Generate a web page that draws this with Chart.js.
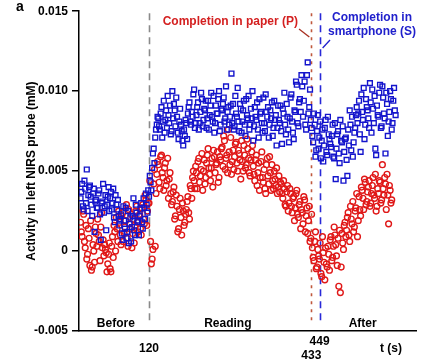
<!DOCTYPE html>
<html>
<head>
<meta charset="utf-8">
<script src="https://cdn.jsdelivr.net/npm/chart.js@4.4.1/dist/chart.umd.min.js"></script>
<style>
  html, body { margin: 0; padding: 0; background: #fff; }
  #wrap { width: 422px; height: 364px; }
</style>
</head>
<body>
<div id="wrap"><canvas id="chart" width="422" height="364"></canvas></div>
<script>
// ---- data (mM) ----
// two interleaved sample sets per condition: *A at T_START + i*T_STEP, *B half a step later
const T_START = -12;
const T_STEP = 3;

const smartphoneA = [
  0.0033, 0.0042, 0.0026, 0.0039, 0.0051, 0.0035, 0.0041, 0.0029, 0.0036, 0.0012, 0.0032,
  0.0027, 0.0038, 0.0007, 0.0031, 0.0024, 0.0035, 0.0029, 0.0040, 0.0033, 0.0026, 0.0039, 0.0018, 0.0029, 0.0032,
  0.0016, 0.0023, 0.0007, 0.0019, 0.0027, 0.0012, 0.0005, 0.0021, 0.0015, 0.0033, 0.0010, 0.0024, 0.0018,
  0.0022, 0.0030, 0.0014, 0.0027, 0.0036, 0.0024,
  0.0034, 0.0043, 0.0052, 0.0064, 0.0071, 0.0079,
  0.0083, 0.0076, 0.0090, 0.0081, 0.0074, 0.0088, 0.0097, 0.0080, 0.0073, 0.0100, 0.0092, 0.0078, 0.0084, 0.0070, 0.0089, 0.0075, 0.0066, 0.0072, 0.0080,
  0.0086, 0.0093, 0.0079, 0.0084, 0.0101, 0.0080, 0.0090, 0.0076, 0.0087, 0.0095, 0.0082, 0.0088, 0.0077, 0.0094, 0.0085, 0.0099, 0.0081, 0.0074, 0.0091, 0.0086, 0.0100, 0.0079, 0.0088, 0.0096, 0.0083, 0.0076, 0.0090,
  0.0084, 0.0111, 0.0092, 0.0078, 0.0086, 0.0102, 0.0075, 0.0089, 0.0081, 0.0094, 0.0072, 0.0085, 0.0097, 0.0079, 0.0083, 0.0069, 0.0090, 0.0082, 0.0076, 0.0095, 0.0087, 0.0074, 0.0080, 0.0098, 0.0084, 0.0071, 0.0088, 0.0093, 0.0077, 0.0082, 0.0066, 0.0091, 0.0080, 0.0075, 0.0089, 0.0099, 0.0073, 0.0084, 0.0068, 0.0096, 0.0081, 0.0070, 0.0087, 0.0104, 0.0078,
  0.0095, 0.0110, 0.0084, 0.0106, 0.0076, 0.0118, 0.0090, 0.0082,
  0.0072, 0.0086, 0.0059, 0.0075, 0.0064, 0.0081, 0.0069, 0.0056, 0.0077, 0.0062, 0.0084, 0.0070,
  0.0065, 0.0079, 0.0058, 0.0045, 0.0073, 0.0061, 0.0082, 0.0068, 0.0044, 0.0070, 0.0057, 0.0076, 0.0088, 0.0063, 0.0059, 0.0074, 0.0085,
  0.0080, 0.0094, 0.0062, 0.0087, 0.0102, 0.0079, 0.0090, 0.0083, 0.0105, 0.0074, 0.0089, 0.0097, 0.0060, 0.0085, 0.0099, 0.0077, 0.0103, 0.0086, 0.0061, 0.0092, 0.0081, 0.0100, 0.0076, 0.0094, 0.0088
];

const smartphoneB = [
  0.0037, 0.0028, 0.0044, 0.0030, 0.0025, 0.0040, 0.0034, 0.0022, 0.0039, 0.0031, 0.0027,
  0.0036, 0.0023, 0.0030, 0.0042, 0.0028, 0.0013, 0.0034, 0.0025, 0.0037, 0.0030, 0.0021, 0.0035, 0.0026, 0.0022,
  0.0020, 0.0011, 0.0028, 0.0014, 0.0008, 0.0025, 0.0017, 0.0006, 0.0022, 0.0013, 0.0029, 0.0019, 0.0010,
  0.0026, 0.0018, 0.0033, 0.0020, 0.0029, 0.0038,
  0.0047, 0.0038, 0.0061, 0.0055, 0.0076, 0.0084,
  0.0078, 0.0086, 0.0071, 0.0094, 0.0082, 0.0077, 0.0085, 0.0091, 0.0075, 0.0083, 0.0088, 0.0096, 0.0074, 0.0081, 0.0079, 0.0069, 0.0076, 0.0082, 0.0070,
  0.0090, 0.0081, 0.0087, 0.0098, 0.0077, 0.0085, 0.0093, 0.0080, 0.0099, 0.0078, 0.0089, 0.0094, 0.0083, 0.0076, 0.0091, 0.0084, 0.0097, 0.0080, 0.0086, 0.0095, 0.0075, 0.0089, 0.0092, 0.0081, 0.0103, 0.0087, 0.0079,
  0.0091, 0.0080, 0.0076, 0.0097, 0.0084, 0.0081, 0.0092, 0.0074, 0.0088, 0.0079, 0.0095, 0.0083, 0.0076, 0.0089, 0.0100, 0.0078, 0.0084, 0.0093, 0.0071, 0.0086, 0.0080, 0.0096, 0.0075, 0.0087, 0.0090, 0.0079, 0.0083, 0.0072, 0.0094, 0.0085, 0.0077, 0.0082, 0.0091, 0.0067, 0.0086, 0.0079, 0.0092, 0.0076, 0.0083, 0.0098, 0.0074, 0.0088, 0.0106, 0.0080, 0.0093,
  0.0087, 0.0103, 0.0094, 0.0079, 0.0110, 0.0086, 0.0101, 0.0077,
  0.0068, 0.0079, 0.0063, 0.0085, 0.0071, 0.0058, 0.0076, 0.0066, 0.0082, 0.0060, 0.0073, 0.0067,
  0.0072, 0.0059, 0.0080, 0.0064, 0.0075, 0.0055, 0.0069, 0.0078, 0.0062, 0.0071, 0.0047, 0.0066, 0.0079, 0.0084, 0.0068, 0.0077, 0.0090,
  0.0086, 0.0073, 0.0098, 0.0082, 0.0070, 0.0095, 0.0088, 0.0077, 0.0093, 0.0101, 0.0080, 0.0064, 0.0091, 0.0084, 0.0104, 0.0078, 0.0096, 0.0083, 0.0099, 0.0072, 0.0087, 0.0095, 0.0080, 0.0102, 0.0085
];

const paperA = [
  0.0018, 0.0009, 0.0023, 0.0002, -0.0005, 0.0014, -0.0009, -0.0012, 0.0004, -0.0007, 0.0011,
  0.0020, 0.0006, 0.0015, 0.0002, -0.0003, 0.0001, -0.0013, -0.0002, -0.0011, 0.0003, -0.0004, 0.0012, 0.0021, 0.0006,
  0.0018, 0.0004, 0.0024, 0.0011, 0.0019, 0.0008, 0.0026, 0.0014, 0.0002, 0.0020, 0.0016, 0.0028, 0.0012,
  0.0023, 0.0010, 0.0029, 0.0017, 0.0032, 0.0025,
  0.0030, 0.0006, -0.0005, 0.0042, 0.0003, 0.0048,
  0.0054, 0.0039, 0.0060, 0.0046, 0.0052, 0.0041, 0.0058, 0.0045, 0.0036,
  0.0031, 0.0040, 0.0022, 0.0028, 0.0014, 0.0033, 0.0010, 0.0025, 0.0018,
  0.0026, 0.0034, 0.0020, 0.0039, 0.0046,
  0.0044, 0.0053, 0.0039, 0.0058, 0.0047, 0.0061, 0.0050, 0.0042, 0.0055, 0.0064, 0.0048, 0.0052, 0.0040, 0.0059, 0.0054, 0.0062, 0.0046,
  0.0057, 0.0065, 0.0072, 0.0051, 0.0060, 0.0076, 0.0054, 0.0048, 0.0063, 0.0059, 0.0068, 0.0050, 0.0061, 0.0045, 0.0056, 0.0066, 0.0052, 0.0070, 0.0058, 0.0047, 0.0062,
  0.0053, 0.0044, 0.0060, 0.0049, 0.0038, 0.0056, 0.0046, 0.0051, 0.0036, 0.0058, 0.0042, 0.0049, 0.0054, 0.0039, 0.0045, 0.0052, 0.0040, 0.0037,
  0.0042, 0.0033, 0.0039, 0.0028, 0.0041, 0.0030, 0.0036, 0.0024, 0.0034, 0.0027, 0.0038, 0.0021, 0.0031, 0.0026, 0.0017, 0.0032, 0.0022, 0.0011, 0.0028, 0.0008,
  0.0002, -0.0006, 0.0012, -0.0010, -0.0003, 0.0005, -0.0016, -0.0001, -0.0018, -0.0008, 0.0003, -0.0012,
  0.0009, -0.0004, 0.0015, 0.0004, -0.0009, -0.0022, -0.0026, 0.0011, 0.0001, 0.0018,
  0.0013, 0.0024, 0.0006, 0.0020, 0.0031, 0.0015, 0.0027, 0.0009, 0.0034, 0.0022,
  0.0038, 0.0026, 0.0043, 0.0031, 0.0040, 0.0028, 0.0036, 0.0046, 0.0033, 0.0025, 0.0039, 0.0044, 0.0030, 0.0054, 0.0035, 0.0042, 0.0048, 0.0017, 0.0038, 0.0032
];

const paperB = [
  0.0012, 0.0025, 0.0006, 0.0016, -0.0002, 0.0008, 0.0019, -0.0010, 0.0000, 0.0015, 0.0003,
  0.0010, -0.0006, 0.0024, 0.0007, 0.0004, -0.0001, -0.0008, 0.0005, -0.0013, 0.0009, 0.0016, 0.0000, 0.0014, 0.0025,
  0.0010, 0.0022, 0.0006, 0.0015, 0.0029, 0.0003, 0.0017, 0.0023, 0.0011, 0.0005, 0.0025, 0.0018, 0.0022,
  0.0014, 0.0027, 0.0020, 0.0035, 0.0016, 0.0030,
  0.0044, -0.0008, 0.0001, 0.0051, 0.0036, 0.0056,
  0.0043, 0.0059, 0.0049, 0.0038, 0.0055, 0.0044, 0.0033, 0.0049, 0.0029,
  0.0037, 0.0020, 0.0035, 0.0012, 0.0026, 0.0021, 0.0030, 0.0016, 0.0023,
  0.0031, 0.0024, 0.0041, 0.0033, 0.0050,
  0.0039, 0.0049, 0.0056, 0.0043, 0.0051, 0.0038, 0.0057, 0.0046, 0.0060, 0.0052, 0.0044, 0.0058, 0.0063, 0.0049, 0.0055, 0.0043, 0.0059,
  0.0064, 0.0053, 0.0069, 0.0058, 0.0049, 0.0062, 0.0071, 0.0056, 0.0051, 0.0067, 0.0055, 0.0063, 0.0057, 0.0069, 0.0050, 0.0060, 0.0054, 0.0064, 0.0049, 0.0057, 0.0066,
  0.0048, 0.0057, 0.0041, 0.0055, 0.0046, 0.0062, 0.0043, 0.0039, 0.0054, 0.0047, 0.0059, 0.0038, 0.0044, 0.0050, 0.0041, 0.0036, 0.0047, 0.0043,
  0.0036, 0.0044, 0.0029, 0.0037, 0.0025, 0.0039, 0.0028, 0.0033, 0.0019, 0.0036, 0.0023, 0.0029, 0.0014, 0.0024, 0.0034, 0.0012, 0.0027, 0.0019, 0.0006, 0.0023,
  -0.0004, 0.0006, -0.0011, 0.0001, -0.0005, -0.0014, 0.0009, -0.0007, 0.0002, -0.0010, -0.0002, 0.0007,
  -0.0006, 0.0003, 0.0010, -0.0003, 0.0008, 0.0013, -0.0010, 0.0005, 0.0016, 0.0009,
  0.0021, 0.0010, 0.0028, 0.0017, 0.0012, 0.0025, 0.0036, 0.0019, 0.0026, 0.0040,
  0.0033, 0.0045, 0.0029, 0.0037, 0.0044, 0.0030, 0.0041, 0.0035, 0.0048, 0.0028, 0.0036, 0.0043, 0.0032, 0.0039, 0.0046, 0.0026, 0.0035, 0.0041, 0.0030
];

// phase boundaries (s): end of "Before", completion in paper, completion in smartphone
const phaseTimes = [120, 433, 449];
const phaseNames = ["Before", "Reading", "After"];
const yTicks = [-0.005, 0, 0.005, 0.010, 0.015];

// ---- styling / layout ----
const FONT = "'Liberation Sans', Arial, sans-serif";
const BLUE = "#1414cc";
const RED = "#e01818";
const PHASE_LABEL_T = [56, 272, 532];
const LINE_STYLES = [
  { color: "#8a8a8a", dash: [7, 5], width: 1.6 },
  { color: "#c0583c", dash: [3, 5], width: 1.6 },
  { color: "#2828d8", dash: [7, 5], width: 1.6 },
];

function toPoints(values, t0) {
  return values.map((v, i) => ({ x: t0 + i * T_STEP, y: v }));
}

const overlay = {
  id: "overlay",
  beforeDatasetsDraw(chart) {
    const { ctx, chartArea: a, scales: { x } } = chart;
    ctx.save();
    phaseTimes.forEach((t, i) => {
      const s = LINE_STYLES[i];
      const px = Math.round(x.getPixelForValue(t)) + 0.5;
      ctx.strokeStyle = s.color;
      ctx.lineWidth = s.width;
      ctx.setLineDash(s.dash);
      ctx.beginPath();
      ctx.moveTo(px, a.top + 2);
      ctx.lineTo(px, a.bottom - 6);
      ctx.stroke();
    });
    ctx.restore();
  },
  afterDraw(chart) {
    const { ctx, chartArea: a, scales: { x } } = chart;
    const xp = x.getPixelForValue(phaseTimes[1]);
    const xs = x.getPixelForValue(phaseTimes[2]);
    ctx.save();
    ctx.font = "bold 12px " + FONT;
    ctx.fillStyle = "#000";

    // phase names inside the plot
    ctx.textAlign = "center";
    ctx.textBaseline = "middle";
    phaseNames.forEach((n, i) => ctx.fillText(n, x.getPixelForValue(PHASE_LABEL_T[i]), a.bottom - 7));

    // x tick labels (staggered) and axis name
    ctx.fillText(String(phaseTimes[0]), x.getPixelForValue(phaseTimes[0]), a.bottom + 18);
    ctx.fillText(String(phaseTimes[1]), xp, a.bottom + 25);
    ctx.fillText(String(phaseTimes[2]), xs, a.bottom + 11);
    ctx.fillText("t (s)", 391, a.bottom + 18);

    // annotations
    ctx.textBaseline = "alphabetic";
    ctx.textAlign = "right";
    ctx.fillStyle = "#d42020";
    ctx.fillText("Completion in paper (P)", 298, 25);
    ctx.textAlign = "center";
    ctx.fillStyle = "#2020cc";
    ctx.fillText("Completion in", 372, 21);
    ctx.fillText("smartphone (S)", 372, 34.5);

    ctx.lineWidth = 1.3;
    ctx.strokeStyle = "#a83020";
    ctx.beginPath();
    ctx.moveTo(299, 29);
    ctx.lineTo(xp - 2, 37);
    ctx.stroke();
    ctx.strokeStyle = "#2020cc";
    ctx.beginPath();
    ctx.moveTo(330, 40);
    ctx.lineTo(xs + 3, 48);
    ctx.stroke();

    // panel letter
    ctx.fillStyle = "#000";
    ctx.textAlign = "left";
    ctx.font = "bold 14px " + FONT;
    ctx.fillText("a", 16, 11);
    ctx.restore();
  },
};

new Chart(document.getElementById("chart").getContext("2d"), {
  type: "scatter",
  data: {
    datasets: [
      {
        label: "Smartphone (S)",
        data: toPoints(smartphoneA, T_START).concat(toPoints(smartphoneB, T_START + T_STEP / 2)),
        pointStyle: "rect",
        pointRadius: 3.4,
        borderWidth: 1.4,
        borderColor: BLUE,
        backgroundColor: "rgba(0,0,0,0)",
      },
      {
        label: "Paper (P)",
        data: toPoints(paperA, T_START).concat(toPoints(paperB, T_START + T_STEP / 2)),
        pointStyle: "circle",
        pointRadius: 2.9,
        borderWidth: 1.4,
        borderColor: RED,
        backgroundColor: "rgba(0,0,0,0)",
      },
    ],
  },
  options: {
    responsive: false,
    animation: false,
    layout: { padding: { left: 0, right: 5, top: 8, bottom: 0 } },
    plugins: { legend: { display: false }, tooltip: { enabled: false } },
    scales: {
      x: {
        type: "linear",
        min: -15,
        max: 636,
        grid: { display: false },
        border: { color: "#000", width: 1.5 },
        ticks: { display: false },
        afterFit: (s) => { s.height = 33; },
      },
      y: {
        min: -0.005,
        max: 0.015,
        afterBuildTicks: (s) => { s.ticks = yTicks.map((v) => ({ value: v })); },
        ticks: {
          color: "#000",
          padding: 4,
          font: { family: FONT, size: 12, weight: "bold" },
          callback: (v) => (Math.abs(v) < 1e-9 ? "0" : v.toFixed(3)),
        },
        grid: { drawOnChartArea: false, drawTicks: true, tickLength: 7, color: "#000", lineWidth: 1.5 },
        border: { color: "#000", width: 1.5 },
        title: {
          display: true,
          text: "Activity in left NIRS probe (mM)",
          color: "#000",
          font: { family: FONT, size: 12, weight: "bold" },
          padding: { top: 24, bottom: 0 },
        },
        afterFit: (s) => { s.width = 79; },
      },
    },
  },
  plugins: [overlay],
});
</script>
</body>
</html>
